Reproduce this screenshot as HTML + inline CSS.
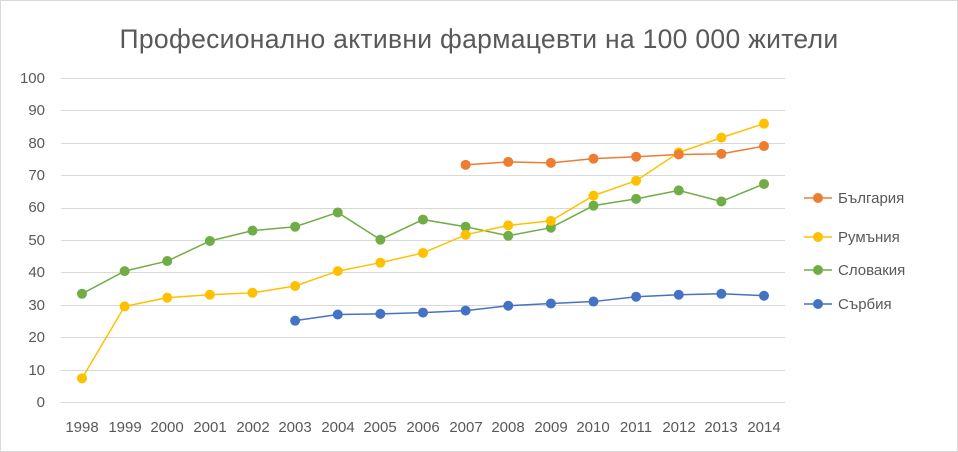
<!DOCTYPE html>
<html><head><meta charset="utf-8"><style>
html,body{margin:0;padding:0;background:#fff;}
svg{display:block;font-family:"Liberation Sans","DejaVu Sans",sans-serif;}
</style></head><body>
<svg id="s" width="958" height="452" xmlns="http://www.w3.org/2000/svg">
<rect x="0.5" y="0.5" width="957" height="451" fill="#fff" stroke="#d9d9d9"/>
<text x="479" y="48" text-anchor="middle" font-size="26.5" letter-spacing="0.3" fill="#595959">Професионално активни фармацевти на 100 000 жители</text>
<g id="grid" stroke="#d9d9d9" stroke-width="1"></g>
<g font-size="15" fill="#595959" text-anchor="end">
<text x="45" y="407">0</text><text x="45" y="375">10</text><text x="45" y="342">20</text><text x="45" y="310">30</text><text x="45" y="277">40</text><text x="45" y="245">50</text><text x="45" y="212">60</text><text x="45" y="180">70</text><text x="45" y="148">80</text><text x="45" y="115">90</text><text x="45" y="83">100</text>
</g>
<g font-size="15" fill="#595959" text-anchor="middle">
<text x="82" y="432">1998</text><text x="125" y="432">1999</text><text x="167" y="432">2000</text><text x="210" y="432">2001</text><text x="253" y="432">2002</text><text x="295" y="432">2003</text><text x="338" y="432">2004</text><text x="380" y="432">2005</text><text x="423" y="432">2006</text><text x="466" y="432">2007</text><text x="508" y="432">2008</text><text x="551" y="432">2009</text><text x="593" y="432">2010</text><text x="636" y="432">2011</text><text x="679" y="432">2012</text><text x="721" y="432">2013</text><text x="764" y="432">2014</text>
</g>
<g id="series"></g>
<g font-size="15" fill="#595959">
<line x1="804" y1="198" x2="832" y2="198" stroke="#ED7D31" stroke-width="1.5"/><circle cx="818" cy="198" r="5" fill="#ED7D31"/><text x="838" y="203">България</text>
<line x1="804" y1="237" x2="832" y2="237" stroke="#FFC000" stroke-width="1.5"/><circle cx="818" cy="237" r="5" fill="#FFC000"/><text x="838" y="242">Румъния</text>
<line x1="804" y1="270" x2="832" y2="270" stroke="#70AD47" stroke-width="1.5"/><circle cx="818" cy="270" r="5" fill="#70AD47"/><text x="838" y="275">Словакия</text>
<line x1="804" y1="304" x2="832" y2="304" stroke="#4472C4" stroke-width="1.5"/><circle cx="818" cy="304" r="5" fill="#4472C4"/><text x="838" y="309">Сърбия</text>
</g>
</svg>
<script>
var NS="http://www.w3.org/2000/svg";
function X(i){return 82+42.625*i;}function Y(v){return 402-3.24*v;}
var g=document.getElementById("grid");
for(var k=0;k<=10;k++){var l=document.createElementNS(NS,"line");var y=Math.round(Y(k*10))+0.5;l.setAttribute("x1",61);l.setAttribute("x2",785);l.setAttribute("y1",y);l.setAttribute("y2",y);g.appendChild(l);}
var S=[
["#70AD47",0,[33.4,40.4,43.5,49.7,52.9,54.1,58.5,50.1,56.3,54.1,51.3,53.8,60.6,62.7,65.3,61.9,67.3]],
["#4472C4",5,[25.1,27,27.2,27.6,28.2,29.7,30.4,31,32.5,33.1,33.4,32.8]],
["#FFC000",0,[7.3,29.5,32.2,33.1,33.7,35.8,40.4,43,46,51.6,54.5,55.9,63.7,68.3,77,81.6,85.9]],
["#ED7D31",9,[73.2,74.1,73.8,75.1,75.7,76.4,76.6,79.0]]];
var sg=document.getElementById("series");
S.forEach(function(s){var pts=s[2].map(function(v,j){return X(s[1]+j)+","+Y(v);});
var p=document.createElementNS(NS,"polyline");p.setAttribute("points",pts.join(" "));p.setAttribute("fill","none");p.setAttribute("stroke",s[0]);p.setAttribute("stroke-width","1.5");sg.appendChild(p);
s[2].forEach(function(v,j){var c=document.createElementNS(NS,"circle");c.setAttribute("cx",X(s[1]+j));c.setAttribute("cy",Y(v));c.setAttribute("r",5);c.setAttribute("fill",s[0]);sg.appendChild(c);});});
</script>
</body></html>
